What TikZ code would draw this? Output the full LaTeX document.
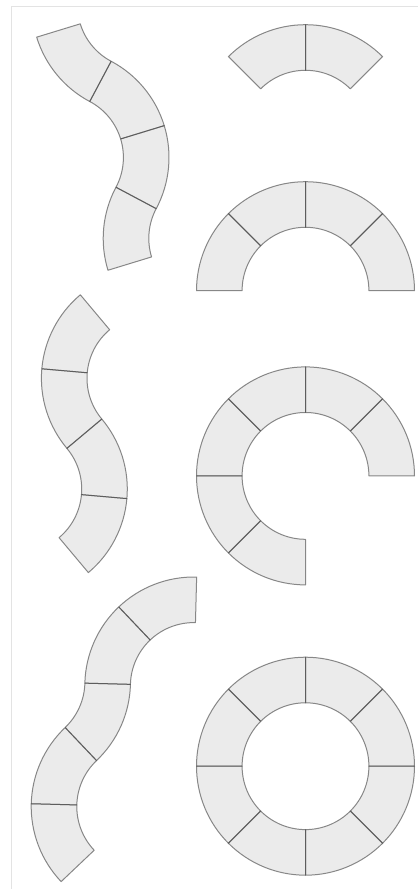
\documentclass[tikz,border=0pt]{standalone}
\usetikzlibrary{calc}
\definecolor{piecefill}{HTML}{EBEBEB}
\definecolor{piecedraw}{HTML}{454545}
\definecolor{framecol}{HTML}{E3E3E3}
\tikzset{
  piecefillonly/.style={fill=piecefill, draw=none},
  piecestrokeonly/.style={draw=piecedraw, draw opacity=0.62, line width=1pt, line join=round},
  framebox/.style={draw=framecol, line width=1pt},
  piece/.style={piecefillonly},
}
% #1,#2: centre in screen pixels (y downwards), #3,#4: start/end angle
\newcommand\trackseg[4]{%
  \path[piece] ([shift={(#1,889-#2)}]#3:109) arc[start angle=#3,end angle=#4,radius=109]
    -- ([shift={(#1,889-#2)}]#4:63.4) arc[start angle=#4,end angle=#3,radius=63.4] -- cycle;}
\newcommand\allpieces{%
% right column
\trackseg{305.5}{133.7}{45}{90}%
\trackseg{305.5}{133.7}{90}{135}%
\foreach \a in {0,45,90,135}{\trackseg{305.5}{290.7}{\a}{\a+45}}%
\foreach \a in {0,45,...,225}{\trackseg{305.5}{475.9}{\a}{\a+45}}%
\foreach \a in {0,45,...,315}{\trackseg{305.5}{766.2}{\a}{\a+45}}%
% snake 1
\trackseg{140.9}{5.3}{197}{242}%
\trackseg{60}{157.5}{17}{62}%
\trackseg{60}{157.5}{-28}{17}%
\trackseg{212.2}{238.4}{152}{197}%
% snake 2
\trackseg{150.4}{378.3}{130}{175}%
\trackseg{150.4}{378.3}{175}{220}%
\trackseg{18.3}{489.1}{-5}{40}%
\trackseg{18.3}{489.1}{-50}{-5}%
% snake 3
\trackseg{193.8}{686}{88.5}{133.5}%
\trackseg{193.8}{686}{133.5}{178.5}%
\trackseg{21.5}{681.5}{-46.5}{-1.5}%
\trackseg{140.2}{806.6}{133.5}{178.5}%
\trackseg{140.2}{806.6}{178.5}{223.5}%
}
\begin{document}
\begin{tikzpicture}[x=1pt,y=1pt]
\useasboundingbox (0,0) rectangle (418,889);
\coordinate (fa) at (11,0);
\coordinate (fb) at (11,882.3);
\coordinate (fc) at (418,882.3);
\draw[framebox] (fa) -- (fb) -- (fc);
\begin{scope}[piece/.style={piecefillonly}]
\allpieces
\end{scope}
\begin{scope}[piece/.style={piecestrokeonly}]
\allpieces
\end{scope}
\end{tikzpicture}
\end{document}
